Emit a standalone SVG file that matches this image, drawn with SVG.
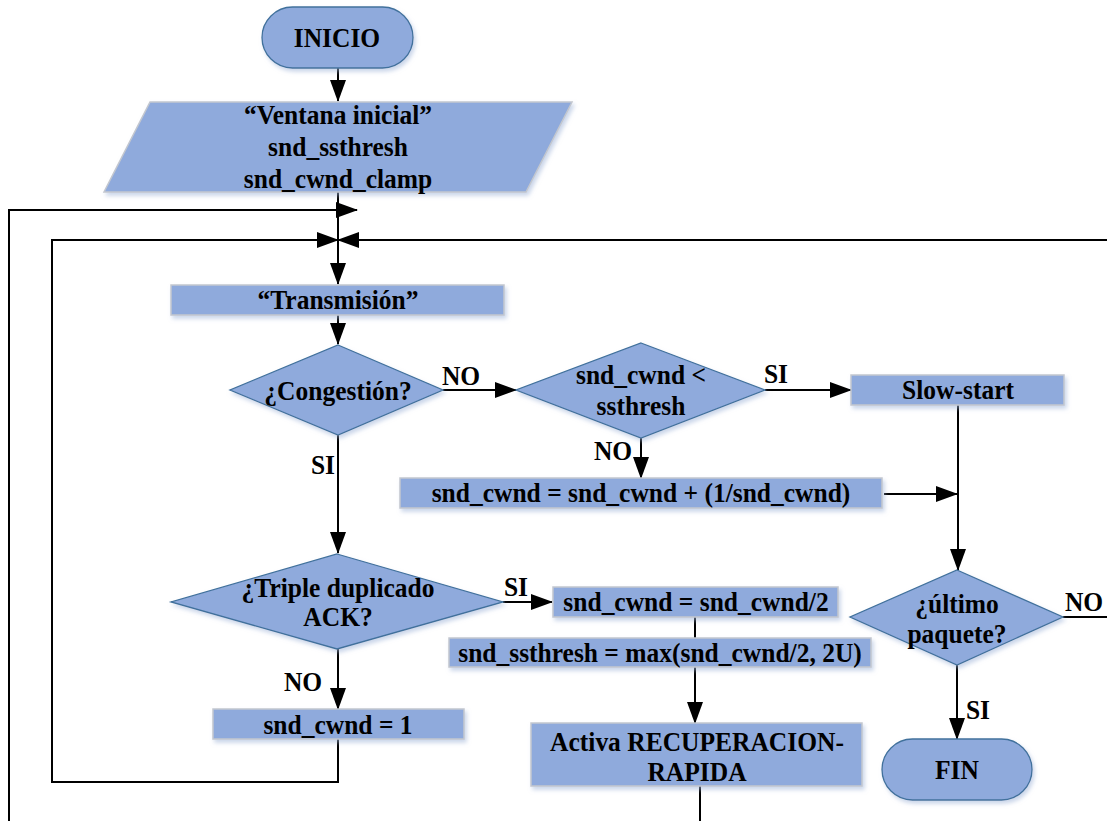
<svg xmlns="http://www.w3.org/2000/svg" width="1107" height="821" viewBox="0 0 1107 821">
  <style>
    .shape { fill: #8faadc; filter: url(#shadow); }
    .outline { stroke: #41719c; stroke-width: 1.3; }
    .box { stroke: #c3c7cf; stroke-width: 1.5; }
    .wire { fill: none; stroke: #000; stroke-width: 2; }
  </style>
  <defs>
    <filter id="shadow" x="-10%" y="-20%" width="125%" height="150%">
      <feDropShadow dx="2" dy="3" stdDeviation="2.2" flood-color="#9fb3d8" flood-opacity="0.55"/>
    </filter>
    <marker id="arrow" markerUnits="userSpaceOnUse" markerWidth="22" markerHeight="16" refX="21" refY="8" orient="auto">
      <path d="M0,0 L22,8 L0,16 z" fill="#000"/>
    </marker>
  </defs>

  <rect width="1107" height="821" fill="#fff"/>

  <!-- connectors -->
  <g id="connectors">
    <line class="wire" x1="338" y1="68" x2="338" y2="101" marker-end="url(#arrow)"/>
    <line class="wire" x1="338" y1="192" x2="338" y2="284" marker-end="url(#arrow)"/>
    <!-- outer loop from the recovery branch -->
    <polyline class="wire" points="700,786 700,821"/>
    <polyline class="wire" points="9,821 9,210 357,210" marker-end="url(#arrow)"/>
    <!-- inner loop from snd_cwnd = 1 -->
    <polyline class="wire" points="338,739 338,782 52,782 52,240 338,240" marker-end="url(#arrow)"/>
    <!-- loop from ¿último paquete? NO -->
    <line class="wire" x1="1063" y1="617" x2="1107" y2="617"/>
    <line class="wire" x1="1107" y1="240" x2="338" y2="240" marker-end="url(#arrow)"/>

    <line class="wire" x1="338" y1="315" x2="338" y2="344" marker-end="url(#arrow)"/>
    <line class="wire" x1="443" y1="390" x2="516" y2="390" marker-end="url(#arrow)"/>
    <line class="wire" x1="765" y1="390" x2="851" y2="390" marker-end="url(#arrow)"/>
    <line class="wire" x1="641" y1="438" x2="641" y2="478" marker-end="url(#arrow)"/>
    <line class="wire" x1="884" y1="494" x2="957" y2="494" marker-end="url(#arrow)"/>
    <line class="wire" x1="958" y1="405" x2="958" y2="570" marker-end="url(#arrow)"/>
    <line class="wire" x1="957" y1="665" x2="957" y2="739" marker-end="url(#arrow)"/>
    <line class="wire" x1="338" y1="435" x2="338" y2="553" marker-end="url(#arrow)"/>
    <line class="wire" x1="503" y1="602" x2="552" y2="602" marker-end="url(#arrow)"/>
    <line class="wire" x1="338" y1="649" x2="338" y2="709" marker-end="url(#arrow)"/>
    <line class="wire" x1="695" y1="617" x2="695" y2="638" stroke-width="1.5"/>
    <line class="wire" x1="695" y1="667" x2="695" y2="723" marker-end="url(#arrow)"/>
  </g>

  <!-- all text: bold Times-metric serif, slightly tall -->
  <g font-family="Liberation Serif" font-weight="bold" font-size="25.5" fill="#000" text-anchor="middle">

    <!-- branch labels -->
    <g id="labels">
      <text transform="matrix(1 0 0 1.1 461 385)">NO</text>
      <text transform="matrix(1 0 0 1.1 323 474)">SI</text>
      <text transform="matrix(1 0 0 1.1 776 383)">SI</text>
      <text transform="matrix(1 0 0 1.1 613 460)">NO</text>
      <text transform="matrix(1 0 0 1.1 516 596)">SI</text>
      <text transform="matrix(1 0 0 1.1 303 691)">NO</text>
      <text transform="matrix(1 0 0 1.1 1084 611)">NO</text>
      <text transform="matrix(1 0 0 1.1 978 719)">SI</text>
    </g>

    <g id="inicio">
      <rect class="shape outline" x="262" y="7" width="151" height="61" rx="30.5"/>
      <text transform="matrix(1 0 0 1.1 337 47)">INICIO</text>
    </g>

    <g id="ventana">
      <polygon class="shape box" points="150,102 572,102 526,192 104,192"/>
      <text transform="matrix(1 0 0 1.1 338 124)">“Ventana inicial”</text>
      <text transform="matrix(1 0 0 1.1 338 156)">snd_ssthresh</text>
      <text transform="matrix(1 0 0 1.1 338 188)">snd_cwnd_clamp</text>
    </g>

    <g id="transmision">
      <rect class="shape box" x="171" y="285" width="333" height="30"/>
      <text transform="matrix(1 0 0 1.1 338 309)">“Transmisión”</text>
    </g>

    <g id="congestion">
      <polygon class="shape outline" points="338,345 443,390 338,435 230,390"/>
      <text transform="matrix(1 0 0 1.1 338 400)">¿Congestión?</text>
    </g>

    <g id="cwnd-lt">
      <polygon class="shape outline" points="641,343 765,390 641,438 516,390"/>
      <text transform="matrix(1 0 0 1.1 641 384)">snd_cwnd &lt;</text>
      <text transform="matrix(1 0 0 1.1 641 415)">ssthresh</text>
    </g>

    <g id="slow-start">
      <rect class="shape box" x="851" y="375" width="213" height="30"/>
      <text transform="matrix(1 0 0 1.1 958 399)">Slow-start</text>
    </g>

    <g id="cwnd-inc">
      <rect class="shape box" x="400" y="478" width="482" height="30"/>
      <text transform="matrix(1 0 0 1.1 641 502)">snd_cwnd = snd_cwnd + (1/snd_cwnd)</text>
    </g>

    <g id="triple">
      <polygon class="shape outline" points="337,554 503,602 337,649 171,602"/>
      <text transform="matrix(1 0 0 1.1 338 597)">¿Triple duplicado</text>
      <text transform="matrix(1 0 0 1.1 338 626)">ACK?</text>
    </g>

    <g id="cwnd-half">
      <rect class="shape box" x="553" y="587" width="285" height="30"/>
      <text transform="matrix(1 0 0 1.1 696 611)">snd_cwnd = snd_cwnd/2</text>
    </g>

    <g id="ssthresh-max">
      <rect class="shape box" x="449" y="638" width="422" height="29"/>
      <text transform="matrix(1 0 0 1.1 660 662)">snd_ssthresh = max(snd_cwnd/2, 2U)</text>
    </g>

    <g id="cwnd-one">
      <rect class="shape box" x="213" y="709" width="251" height="30"/>
      <text transform="matrix(1 0 0 1.1 338 734)">snd_cwnd = 1</text>
    </g>

    <g id="recuperacion">
      <rect class="shape box" x="531" y="723" width="331" height="63"/>
      <text transform="matrix(1 0 0 1.1 697 751)">Activa RECUPERACION-</text>
      <text transform="matrix(1 0 0 1.1 697 781)">RAPIDA</text>
    </g>

    <g id="ultimo">
      <polygon class="shape outline" points="957,570 1063,617 957,665 850,617"/>
      <text transform="matrix(1 0 0 1.1 957 613)">¿último</text>
      <text transform="matrix(1 0 0 1.1 957 643)">paquete?</text>
    </g>

    <g id="fin">
      <rect class="shape outline" x="882" y="739" width="150" height="61" rx="30.5"/>
      <text transform="matrix(1 0 0 1.1 957 779)">FIN</text>
    </g>
  </g>
</svg>
